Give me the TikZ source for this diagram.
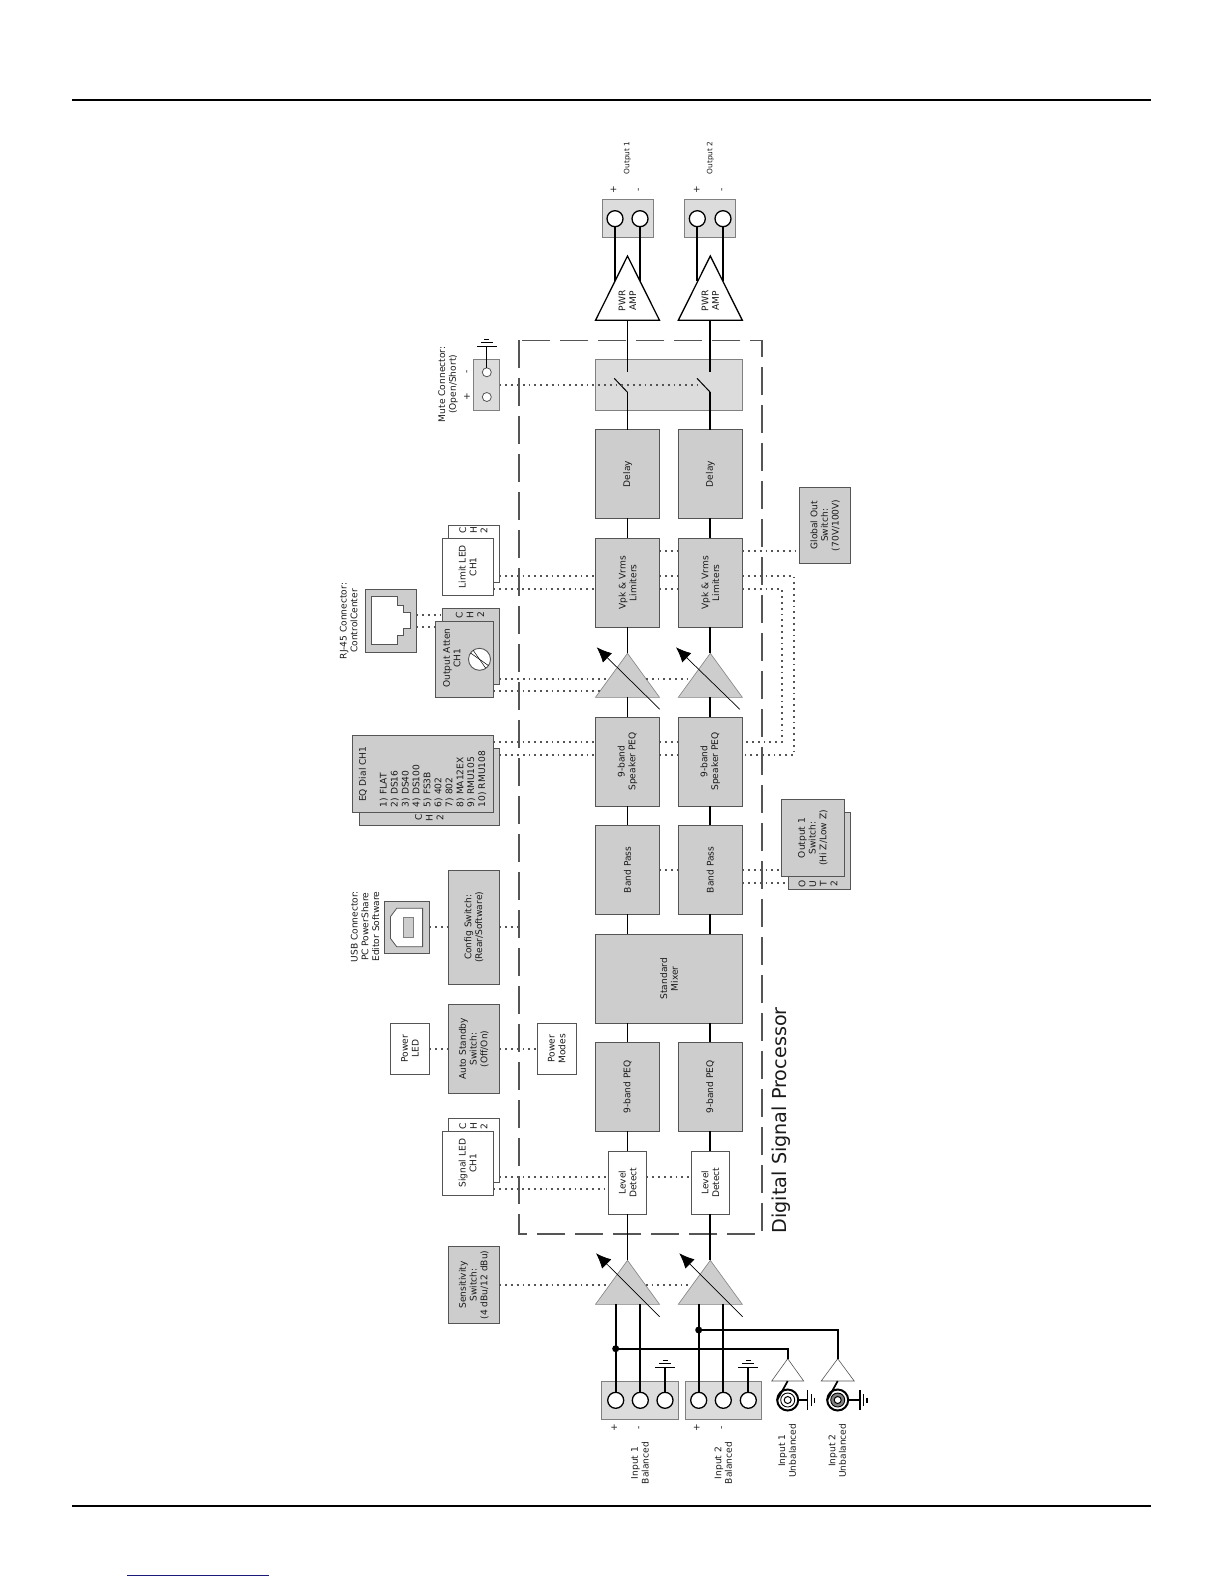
\documentclass[tikz,border=0pt]{standalone}
\usepackage{fontspec}
\setmainfont{DejaVu Sans}
\usetikzlibrary{arrows.meta}
\usetikzlibrary{shapes.geometric}

\definecolor{blkgray}{HTML}{CDCDCD}
\definecolor{palegray}{HTML}{DCDCDC}
\definecolor{edgegray}{HTML}{555555}
\definecolor{inktext}{HTML}{1A1A1A}
\definecolor{linkblue}{HTML}{1A1A7A}

\tikzset{
  txt/.style={rotate=90, align=center, inner sep=0pt, text=inktext, font=\fontsize{9.1}{10.7}\selectfont},
  blk/.style={txt, draw=edgegray, line width=0.9pt, outer sep=0pt},
  grayblk/.style={blk, fill=blkgray},
  paleblk/.style={blk, fill=palegray, draw=gray},
  whiteblk/.style={blk, fill=white},
  amptri/.style={isosceles triangle, isosceles triangle stretches, rotate=90, anchor=lower side,
    inner sep=0pt, outer sep=0pt, minimum width=64pt, minimum height=44pt, fill=blkgray, draw=gray, line width=0.6pt},
  term/.style={circle, draw=black, fill=white, line width=1.3pt, minimum size=16pt, inner sep=0pt, outer sep=0pt},
  smallterm/.style={circle, draw=edgegray, fill=white, line width=0.8pt, minimum size=9pt, inner sep=0pt, outer sep=0pt},
  rca/.style={circle, draw=black, fill=white, line width=2pt, minimum size=21pt, inner sep=0pt, outer sep=0pt},
  sig/.style={line width=1.7pt, black},
  ctrl/.style={line width=1.8pt, edgegray, dash pattern=on 1.8pt off 4pt},
  trim/.style={line width=0.7pt, -{Latex[length=15pt, width=13pt]}},
  gnd/.pic={
    \draw[line width=1.2pt] (-10,0) -- (10,0);
    \draw[line width=1.2pt] (-6,-3.5) -- (6,-3.5);
    \draw[line width=1.2pt] (-2.5,-7) -- (2.5,-7);
  },
}

\begin{document}
\begin{tikzpicture}[x=1pt, y=-1pt]
\useasboundingbox (0,0) rectangle (1224,1584);
\def\xA{627.5}
\def\xB{710.3}
\def\xM{669}
\def\yLedA{576.3}
\def\yLedB{589}
\def\yAttA{678.7}
\def\yAttB{691.3}
\def\yEqA{742.3}
\def\yEqB{755}

% page rules
\coordinate (RuleTl) at (72,100.5);
\coordinate (RuleTr) at (1151,100.5);
\coordinate (RuleBl) at (72,1505.7);
\coordinate (RuleBr) at (1151,1505.7);
\coordinate (LinkL) at (127,1575.3);
\coordinate (LinkR) at (268.7,1575.3);
\draw[line width=2pt] (RuleTl) -- (RuleTr);
\draw[line width=2pt] (RuleBl) -- (RuleBr);
\draw[line width=1pt, linkblue] (LinkL) -- (LinkR);

% DSP frame
\draw[edgegray, line width=1.2pt, dash pattern=on 28pt off 10pt] (519,340.3) rectangle (762,1234);
\node[txt, anchor=west, font=\fontsize{19.2}{22}\selectfont] (DspLab) at (780.9,1233.5) {Digital Signal Processor};

% outputs
\node[paleblk, minimum width=38pt, minimum height=51pt] (OutBoxA) at (\xA,218.7) {};
\node[paleblk, minimum width=38pt, minimum height=51pt] (OutBoxB) at (\xB,218.7) {};
\node[term] (OutA1) at (615,218.7) {};
\node[term] (OutA2) at (640,218.7) {};
\node[term] (OutB1) at (697.3,218.7) {};
\node[term] (OutB2) at (723,218.7) {};
\node[txt, font=\fontsize{7.4}{10}\selectfont] (OutLabA) at (\xA,158) {Output 1};
\node[txt, font=\fontsize{7.4}{10}\selectfont] (OutLabB) at (\xB,158) {Output 2};
\node[txt] (OutPlusA) at (613.5,190) {+};
\node[txt] (OutMinusA) at (639.5,190) {-};
\node[txt] (OutPlusB) at (696.7,190) {+};
\node[txt] (OutMinusB) at (723,190) {-};
\draw[sig] (OutA1) -- (615,281);
\draw[sig] (OutA2) -- (640,281);
\draw[sig] (OutB1) -- (697.3,281);
\draw[sig] (OutB2) -- (723,281);

\node[amptri, minimum height=64.3pt, fill=white, draw=black, line width=1.3pt] (PwrA) at (\xA,320.3) {};
\node[amptri, minimum height=64.3pt, fill=white, draw=black, line width=1.3pt] (PwrB) at (\xB,320.3) {};
\node[txt] (PwrLabA) at (\xA,301) {PWR\\AMP};
\node[txt] (PwrLabB) at (\xB,301) {PWR\\AMP};

% mute stage
\node[paleblk, minimum width=51.3pt, minimum height=146.7pt] (MuteBox) at (\xM,384.7) {};
\coordinate (SwAtop) at (\xA,372.3);
\coordinate (SwAbot) at (\xA,392.3);
\coordinate (SwAtip) at (614.2,378.3);
\coordinate (SwBtop) at (\xB,372.3);
\coordinate (SwBbot) at (\xB,392.3);
\coordinate (SwBtip) at (697,378.3);
\draw[sig] (PwrA.lower side) -- (SwAtop);
\draw[sig] (PwrB.lower side) -- (SwBtop);
\draw[line width=1pt] (SwAbot) -- (SwAtip);
\draw[line width=1pt] (SwBbot) -- (SwBtip);

% channel blocks
\node[grayblk, minimum width=88.6pt, minimum height=64pt] (DelayA) at (\xA,474) {Delay};
\node[grayblk, minimum width=88.6pt, minimum height=64pt] (DelayB) at (\xB,474) {Delay};
\node[grayblk, minimum width=89pt, minimum height=64pt] (LimA) at (\xA,582.8) {Vpk \& Vrms\\Limiters};
\node[grayblk, minimum width=89pt, minimum height=64pt] (LimB) at (\xB,582.8) {Vpk \& Vrms\\Limiters};
\node[amptri] (AttA) at (\xA,697.3) {};
\node[amptri] (AttB) at (\xB,697.3) {};
\node[grayblk, minimum width=89pt, minimum height=64pt] (SpkA) at (\xA,761.5) {9-band\\Speaker PEQ};
\node[grayblk, minimum width=89pt, minimum height=64pt] (SpkB) at (\xB,761.5) {9-band\\Speaker PEQ};
\node[grayblk, minimum width=89pt, minimum height=64pt] (BandA) at (\xA,869.8) {Band Pass};
\node[grayblk, minimum width=89pt, minimum height=64pt] (BandB) at (\xB,869.8) {Band Pass};
\node[grayblk, minimum width=89.3pt, minimum height=146.7pt] (Mixer) at (\xM,978.7) {Standard\\Mixer};
\node[grayblk, minimum width=89pt, minimum height=64pt] (PeqA) at (\xA,1086.8) {9-band PEQ};
\node[grayblk, minimum width=89pt, minimum height=64pt] (PeqB) at (\xB,1086.8) {9-band PEQ};
\node[whiteblk, minimum width=63pt, minimum height=38pt] (LvlA) at (\xA,1182.8) {Level\\Detect};
\node[whiteblk, minimum width=63pt, minimum height=38pt] (LvlB) at (\xB,1182.8) {Level\\Detect};
\node[amptri] (InAmpA) at (\xA,1304.3) {};
\node[amptri] (InAmpB) at (\xB,1304.3) {};

\draw[sig] (SwAbot) -- (DelayA.east);
\draw[sig] (SwBbot) -- (DelayB.east);
\draw[sig] (DelayA.west) -- (LimA.east);
\draw[sig] (DelayB.west) -- (LimB.east);
\draw[sig] (LimA.west) -- (AttA.apex);
\draw[sig] (LimB.west) -- (AttB.apex);
\draw[sig] (AttA.lower side) -- (SpkA.east);
\draw[sig] (AttB.lower side) -- (SpkB.east);
\draw[sig] (SpkA.west) -- (BandA.east);
\draw[sig] (SpkB.west) -- (BandB.east);
\draw[sig] (BandA.west) -- (BandA.west |- Mixer.east);
\draw[sig] (BandB.west) -- (BandB.west |- Mixer.east);
\draw[sig] (PeqA.east |- Mixer.west) -- (PeqA.east);
\draw[sig] (PeqB.east |- Mixer.west) -- (PeqB.east);
\draw[sig] (PeqA.west) -- (LvlA.east);
\draw[sig] (PeqB.west) -- (LvlB.east);
\draw[sig] (LvlA.west) -- (InAmpA.apex);
\draw[sig] (LvlB.west) -- (InAmpB.apex);

% trim arrows
\coordinate (AttAlo) at (659.8,709.3);
\coordinate (AttAhi) at (596.7,647.3);
\coordinate (AttBlo) at (739.8,709.3);
\coordinate (AttBhi) at (676,647.3);
\coordinate (InAlo) at (659.7,1316.7);
\coordinate (InAhi) at (596,1253.3);
\coordinate (InBlo) at (742.7,1316.7);
\coordinate (InBhi) at (679.3,1253.3);
\draw[trim] (AttAlo) -- (AttAhi);
\draw[trim] (AttBlo) -- (AttBhi);
\draw[trim] (InAlo) -- (InAhi);
\draw[trim] (InBlo) -- (InBhi);

% inputs
\node[paleblk, minimum width=38pt, minimum height=77pt] (InBoxA) at (640.2,1400) {};
\node[paleblk, minimum width=38pt, minimum height=76.7pt] (InBoxB) at (723.3,1400) {};
\node[term] (InA1) at (615.7,1400.3) {};
\node[term] (InA2) at (640.3,1400.3) {};
\node[term] (InA3) at (665,1400.3) {};
\node[term] (InB1) at (698.7,1400.3) {};
\node[term] (InB2) at (723.3,1400.3) {};
\node[term] (InB3) at (748.3,1400.3) {};
\node[txt] (InPlusA) at (614.3,1428) {+};
\node[txt] (InMinusA) at (640,1428) {-};
\node[txt] (InPlusB) at (696.7,1428) {+};
\node[txt] (InMinusB) at (722.7,1428) {-};
\node[txt] (InLabA) at (640,1463) {Input 1\\Balanced};
\node[txt] (InLabB) at (723.3,1463) {Input 2\\Balanced};
\node[txt] (UnLabA) at (787.3,1450.7) {Input 1\\Unbalanced};
\node[txt] (UnLabB) at (837.3,1450.7) {Input 2\\Unbalanced};
\coordinate (GndA) at (665,1367.3);
\coordinate (GndB) at (748.3,1367.3);
\draw[sig] (InA3) -- (GndA);
\draw[sig] (InB3) -- (GndB);
\pic at (GndA) {gnd};
\pic at (GndB) {gnd};

\coordinate (RcaGndA) at (807.7,1400);
\coordinate (RcaGndB) at (860,1400);
\node[rca] (RcaA) at (787.7,1400) {};
\node[rca] (RcaB) at (837.7,1400) {};
\draw[sig] (RcaA) ++(10.5,0) -- (RcaGndA);
\draw[sig] (RcaB) ++(10.5,0) -- (RcaGndB);
\node[rca, line width=0.9pt, minimum size=14pt] (RcaAin) at (RcaA) {};
\node[rca, line width=0.9pt, minimum size=14pt, fill=gray] (RcaBin) at (RcaB) {};
\node[rca, line width=1pt, minimum size=7pt] (RcaAcore) at (RcaA) {};
\node[rca, line width=1pt, minimum size=7pt] (RcaBcore) at (RcaB) {};
\pic[rotate=-90] at (RcaGndA) {gnd};
\pic[rotate=-90] at (RcaGndB) {gnd};

\node[amptri, minimum width=32pt, minimum height=22.3pt, fill=white, draw=edgegray] (BufA) at (787.7,1381) {};
\node[amptri, minimum width=33pt, minimum height=22.3pt, fill=white, draw=edgegray] (BufB) at (837.7,1381) {};
\draw[sig] (BufA.lower side) -- (RcaA.west);
\draw[sig] (BufB.lower side) -- (RcaB.west);

\coordinate (JoinA) at (615.7,1348.7);
\coordinate (JoinB) at (698.7,1330);
\draw[sig] (InA1) -- (InA1 |- InAmpA.lower side);
\draw[sig] (InA2) -- (InA2 |- InAmpA.lower side);
\draw[sig] (InB1) -- (InB1 |- InAmpB.lower side);
\draw[sig] (InB2) -- (InB2 |- InAmpB.lower side);
\draw[sig] (JoinA) -| (BufA.apex);
\draw[sig] (JoinB) -| (BufB.apex);
\fill (JoinA) circle (3.5);
\fill (JoinB) circle (3.5);

% sensitivity
\node[grayblk, minimum width=76.6pt, minimum height=51pt] (SensSw) at (473.8,1285) {Sensitivity\\Switch:\\(4 dBu/12 dBu)};
\draw[ctrl] (SensSw.south |- 0,1285.3) -- (608.8,1285.3);
\draw[ctrl] (645.8,1285.3) -- (691.8,1285.3);

% mute connector
\node[paleblk, minimum width=51.3pt, minimum height=25.6pt] (MuteConn) at (486.7,384.7) {};
\node[smallterm] (MuteMinus) at (486.8,372.3) {};
\node[smallterm] (MutePlus) at (486.8,397) {};
\coordinate (MuteGnd) at (486.8,346.3);
\draw[line width=1pt] (MuteMinus) -- (MuteGnd);
\pic at (MuteGnd) {gnd};
\node[txt] (MuteMinusLab) at (468,372.3) {-};
\node[txt] (MutePlusLab) at (467,396.7) {+};
\node[txt] (MuteLab) at (448,384.3) {Mute Connector:\\(Open/Short)};
\draw[ctrl] (MuteConn.south) -- (SwBtip |- MuteConn.south);

% global out
\node[grayblk, minimum width=76pt, minimum height=50.6pt] (GlobalSw) at (825.1,525.3) {Global Out\\Switch:\\(70V/100V)};
\draw[ctrl] (LimA.south |- 0,550.7) -- (LimB.north |- 0,550.7);
\draw[ctrl] (LimB.south |- 0,550.7) -- (GlobalSw.north |- 0,550.7);

% limit LED
\node[whiteblk, minimum width=57.4pt, minimum height=51.3pt] (LimLedB) at (473.8,554) {};
\node[whiteblk, minimum width=57pt, minimum height=51.5pt] (LimLedA) at (467.7,566.8) {Limit LED\\CH1};
\node[txt] (LimLedCh) at (473.4,530.5) {C\\H\\2};
\draw[ctrl] (LimLedB.south |- 0,\yLedA) -- (LimA.north |- 0,\yLedA);
\draw[ctrl] (LimLedA.south |- 0,\yLedB) -- (LimA.north |- 0,\yLedB);
\draw[ctrl] (LimA.south |- 0,\yLedA) -- (LimB.north |- 0,\yLedA);
\draw[ctrl] (LimA.south |- 0,\yLedB) -- (LimB.north |- 0,\yLedB);
\draw[ctrl] (LimB.south |- 0,\yLedA) -- (794.2,\yLedA) -- (794.2,\yEqB) -- (SpkB.south |- 0,\yEqB);
\draw[ctrl] (LimB.south |- 0,\yLedB) -- (781.6,\yLedB) -- (781.6,\yEqA) -- (SpkB.south |- 0,\yEqA);

% output atten
\node[grayblk, minimum width=76pt, minimum height=57.5pt] (AttenB) at (470.8,646.3) {};
\node[grayblk, minimum width=76pt, minimum height=57.9pt] (AttenA) at (464.6,659.3) {};
\node[txt] (AttenLab) at (451.8,658) {Output Atten\\CH1};
\node[txt] (AttenCh) at (470,615) {C\\H\\2};
\node[circle, draw=edgegray, fill=white, line width=0.9pt, minimum size=22pt, inner sep=0pt, outer sep=0pt] (Screw) at (479.5,659.3) {};
\draw[line width=0.5pt] (Screw.125) -- (Screw.305);
\draw[line width=0.5pt] (Screw.145) -- (Screw.325);
\draw[ctrl] (AttenB.south |- 0,\yAttA) -- (609,\yAttA);
\draw[ctrl] (AttenA.south |- 0,\yAttB) -- (600,\yAttB);
\draw[ctrl] (646,\yAttA) -- (692,\yAttA);

% rj-45
\node[grayblk, minimum width=63.3pt, minimum height=51pt] (RjBox) at (390.8,620.7) {};
\draw[line width=0.8pt, edgegray, fill=white] (371.4,596.7) -- (397.4,596.7) -- (397.4,605.7) -- (403.7,605.7) -- (403.7,612.3)
  -- (410.4,612.3) -- (410.4,628) -- (403.7,628) -- (403.7,635.7) -- (397.4,635.7) -- (397.4,644.7) -- (371.4,644.7) -- cycle;
\node[txt] (RjLab) at (348.6,621) {RJ-45 Connector:\\ControlCenter};
\draw[ctrl] (RjBox.south |- 0,614.7) -- (AttenB.north |- 0,614.7);
\draw[ctrl] (RjBox.south |- 0,627.3) -- (AttenA.north |- 0,627.3);

% EQ dial
\node[grayblk, minimum width=77pt, minimum height=140.5pt] (EqB) at (429.3,786.8) {};
\node[grayblk, minimum width=77pt, minimum height=140.7pt] (EqA) at (423.2,774.2) {};
\node[txt, anchor=west] (EqHead) at (363,802) {EQ Dial CH1};
\node[txt, anchor=north west, align=left, font=\fontsize{9.1}{10.95}\selectfont] (EqList) at (379.5,807.3) {1) FLAT\\2) DS16\\3) DS40\\4) DS100\\5) FS3B\\6) 402\\7) 802\\8) MA12EX\\9) RMU105\\10) RMU108};
\node[txt] (EqCh) at (429.3,817.8) {C\\H\\2};
\draw[ctrl] (EqA.south |- 0,\yEqA) -- (SpkA.north |- 0,\yEqA);
\draw[ctrl] (EqB.south |- 0,\yEqB) -- (SpkA.north |- 0,\yEqB);
\draw[ctrl] (SpkA.south |- 0,\yEqA) -- (SpkB.north |- 0,\yEqA);
\draw[ctrl] (SpkA.south |- 0,\yEqB) -- (SpkB.north |- 0,\yEqB);

% output mode switch
\node[grayblk, minimum width=76.7pt, minimum height=62.4pt] (ModeB) at (819.2,850.7) {};
\node[grayblk, minimum width=76.6pt, minimum height=62.4pt] (ModeA) at (812.8,838) {Output 1\\Switch:\\(Hi Z/Low Z)};
\node[txt] (ModeCh) at (818,884) {O\\U\\T\\2};
\draw[ctrl] (BandA.south |- 0,870) -- (BandB.north |- 0,870);
\draw[ctrl] (BandB.south |- 0,870) -- (ModeA.north |- 0,870);
\draw[ctrl] (BandB.south |- 0,882.7) -- (ModeB.north |- 0,882.7);

% config and USB
\node[grayblk, minimum width=114.7pt, minimum height=51.3pt] (CfgSw) at (473.8,927.3) {Config Switch:\\(Rear/Software)};
\node[grayblk, minimum width=51.3pt, minimum height=44.9pt] (UsbBox) at (407.1,927.3) {};
\draw[line width=0.8pt, edgegray, fill=white] (422.6,908.3) -- (396.7,908.3) -- (390.4,916.7) -- (390.4,938.3) -- (396.7,946.7) -- (422.6,946.7) -- cycle;
\draw[line width=0.6pt, gray, fill=blkgray] (403.3,917.3) rectangle (413.5,937.3);
\node[txt] (UsbLab) at (365,926.7) {USB Connector:\\PC PowerShare\\Editor Software};
\coordinate (CfgEnd) at (519.5,927.3);
\draw[ctrl] (UsbBox.south) -- (CfgSw.north);
\draw[ctrl] (CfgSw.south) -- (CfgEnd);

% standby
\node[grayblk, minimum width=89pt, minimum height=51.3pt] (StbySw) at (473.8,1048.8) {Auto Standby\\Switch:\\(Off/On)};
\node[whiteblk, minimum width=51pt, minimum height=39.2pt] (PwrLed) at (410,1048.8) {Power\\LED};
\node[whiteblk, minimum width=51pt, minimum height=38.9pt] (PwrModes) at (556.8,1048.8) {Power\\Modes};
\draw[ctrl] (PwrLed.south) -- (StbySw.north);
\draw[ctrl] (StbySw.south) -- (PwrModes.north);

% signal LED
\node[whiteblk, minimum width=64pt, minimum height=51.3pt] (SigLedB) at (473.8,1150.7) {};
\node[whiteblk, minimum width=64pt, minimum height=51.5pt] (SigLedA) at (467.7,1163.3) {Signal LED\\CH1};
\node[txt] (SigLedCh) at (473.4,1126.5) {C\\H\\2};
\draw[ctrl] (SigLedB.south |- 0,1176.7) -- (LvlA.north |- 0,1176.7);
\draw[ctrl] (SigLedA.south |- 0,1189.3) -- (LvlA.north |- 0,1189.3);
\draw[ctrl] (LvlA.south |- 0,1176.7) -- (LvlB.north |- 0,1176.7);
\end{tikzpicture}
\end{document}
